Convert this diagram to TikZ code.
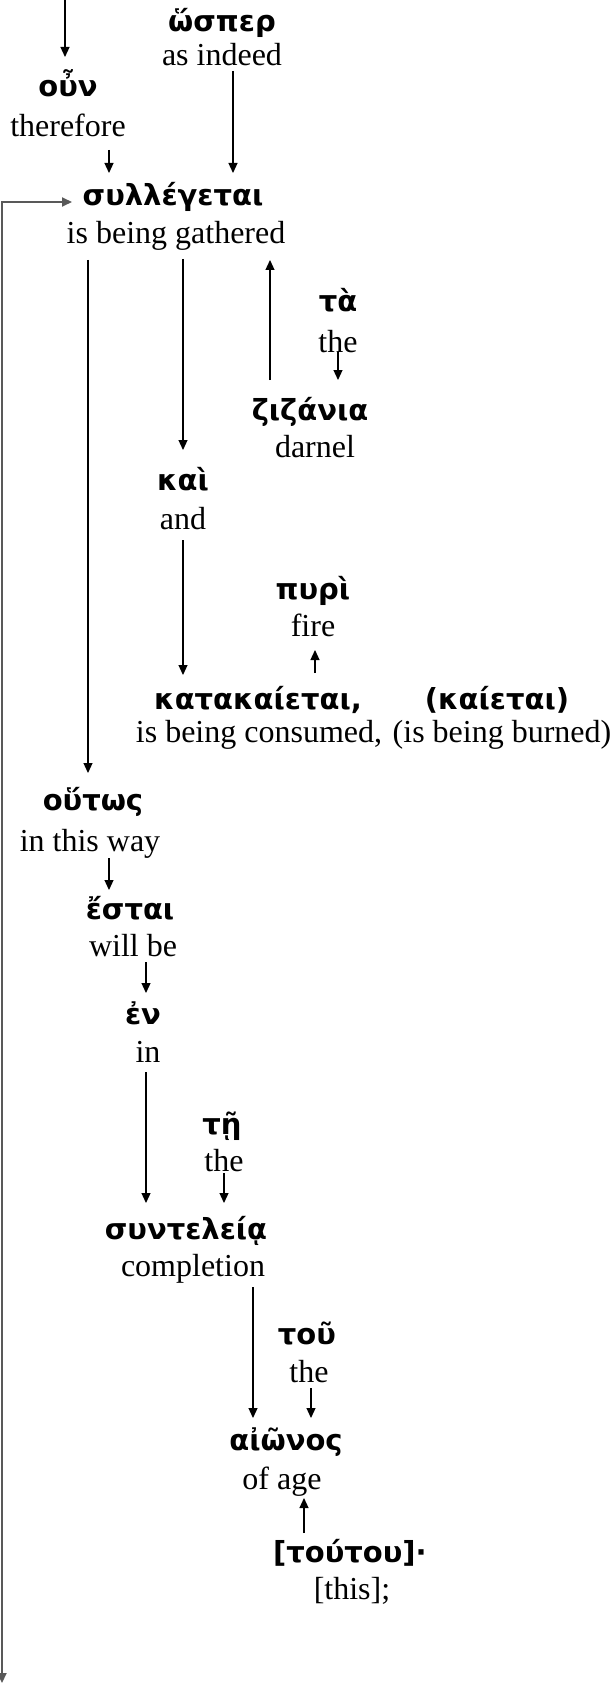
\documentclass[tikz,border=0pt]{standalone}
\usepackage{fontspec}
\setmainfont{Liberation Serif}
\newfontfamily\grk{DejaVu Sans}
\usetikzlibrary{arrows.meta}
\tikzset{
  gk/.style={font=\grk\bfseries\fontsize{29}{30}\selectfont, inner sep=0pt, anchor=base},
  en/.style={font=\fontsize{32}{34}\selectfont, inner sep=0pt, anchor=base},
  arr/.style={-{Triangle[length=10pt,width=9pt]}, line width=1.2pt, black},
  side/.style={{Triangle[length=10pt,width=9pt]}-{Triangle[length=10pt,width=9pt]}, line width=2pt, black!65},
}
\begin{document}
\begin{tikzpicture}[x=1pt,y=-1pt]
\useasboundingbox (0,0) rectangle (615,1685);
% words
\node[gk] (hosper) at (222,32) {ὥσπερ};
\node[en] (asindeed) at (222,66) {as indeed};
\node[gk] (oun) at (68,97) {οὖν};
\node[en] (therefore) at (68,137) {therefore};
\node[gk] (syl) at (173,206) {συλλέγεται};
\node[en] (gathered) at (176,244) {is being gathered};
\node[gk] (ta) at (338,312) {τὰ};
\node[en] (theA) at (338,352) {the};
\node[gk] (ziz) at (310,420) {ζιζάνια};
\node[en] (darnel) at (315,457) {darnel};
\node[gk] (kai) at (183,490) {καὶ};
\node[en] (and) at (183,529) {and};
\node[gk] (pyri) at (313,599) {πυρὶ};
\node[en] (fire) at (313,636) {fire};
\node[gk] (kata) at (258,709) {κατακαίεται,};
\node[en] (consumed) at (259,742) {is being consumed,};
\node[gk] (kaietai) at (497,709) {(καίεται)};
\node[en] (burned) at (502,742) {(is being burned)};
\node[gk] (houtos) at (93,810) {οὕτως};
\node[en] (thisway) at (90,851) {in this way};
\node[gk] (estai) at (130,919) {ἔσται};
\node[en] (willbe) at (133,956) {will be};
\node[gk] (en) at (143,1024) {ἐν};
\node[en] (in) at (148,1062) {in};
\node[gk] (te) at (222,1134) {τῇ};
\node[en] (theB) at (224,1171) {the};
\node[gk] (synt) at (186,1239) {συντελείᾳ};
\node[en] (completion) at (193,1276) {completion};
\node[gk] (tou) at (307,1344) {τοῦ};
\node[en] (theC) at (309,1382) {the};
\node[gk] (aionos) at (286,1450) {αἰῶνος};
\node[en] (ofage) at (282,1489) {of age};
\node[gk] (toutou) at (350,1562) {[τούτου]·};
\node[en] (this) at (352,1599) {[this];};
\coordinate (top) at (65,0);
\coordinate (bot) at (2,1683);
% connectors
\draw[arr] (top) -- ([shift={(-3,-40)}]oun.base);
\draw[arr] ([shift={(41,13)}]therefore.base) -- ([shift={(-64,-33)}]syl.base);
\draw[arr] ([shift={(11,5)}]asindeed.base) -- ([shift={(60,-33)}]syl.base);
\draw[arr] ([shift={(-88,16)}]gathered.base) -- ([shift={(-5,-37)}]houtos.base);
\draw[arr] ([shift={(7,15)}]gathered.base) -- ([shift={(0,-40)}]kai.base);
\draw[arr] ([shift={(-40,-40)}]ziz.base) -- ([shift={(94,16)}]gathered.base);
\draw[arr] ([shift={(0,0)}]theA.base) -- ([shift={(28,-40)}]ziz.base);
\draw[arr] ([shift={(0,11)}]and.base) -- ([shift={(-75,-34)}]kata.base);
\draw[arr] ([shift={(57,-36)}]kata.base) -- ([shift={(2,14)}]fire.base);
\draw[arr] ([shift={(19,7)}]thisway.base) -- ([shift={(-21,-29)}]estai.base);
\draw[arr] ([shift={(13,6)}]willbe.base) -- ([shift={(3,-31)}]en.base);
\draw[arr] ([shift={(-2,10)}]in.base) -- ([shift={(-40,-36)}]synt.base);
\draw[arr] ([shift={(0,2)}]theB.base) -- ([shift={(38,-36)}]synt.base);
\draw[arr] ([shift={(60,11)}]completion.base) -- ([shift={(-33,-32)}]aionos.base);
\draw[arr] ([shift={(2,6)}]theC.base) -- ([shift={(25,-32)}]aionos.base);
\draw[arr] ([shift={(-46,-29)}]toutou.base) -- ([shift={(22,9)}]ofage.base);
\draw[side] (bot) |- ([shift={(-101,-4)}]syl.base);
\end{tikzpicture}
\end{document}
